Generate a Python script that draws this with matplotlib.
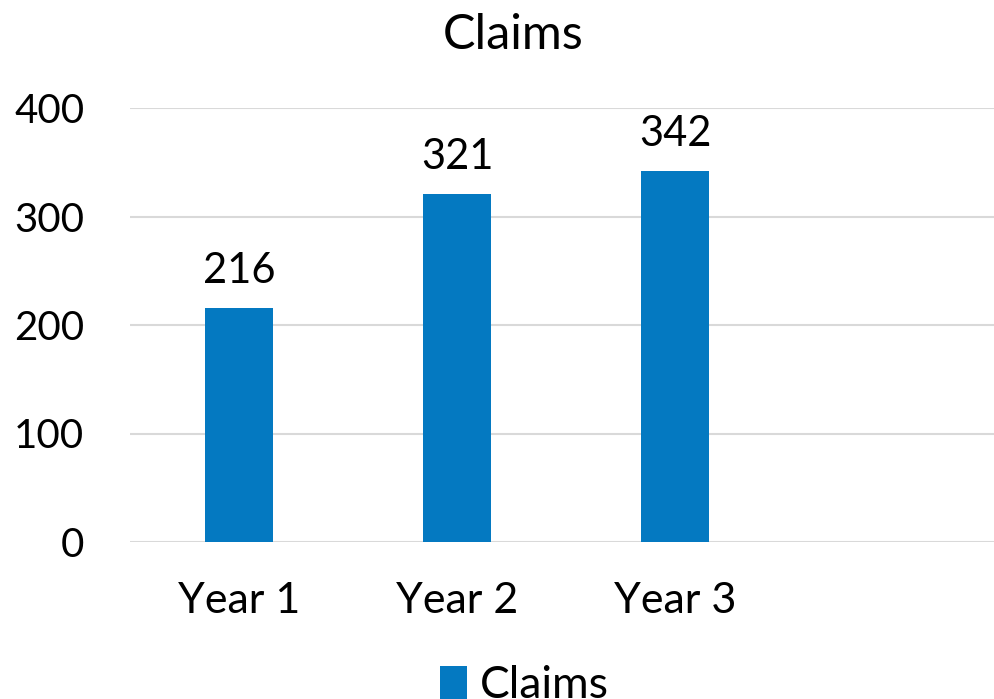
import matplotlib
matplotlib.use("Agg")
import matplotlib.pyplot as plt

categories = ["Year 1", "Year 2", "Year 3", ""]
claims = [216, 321, 342, None]
y_ticks = [0, 100, 200, 300, 400]

bar_color = "#0479C1"
grid_color = "#D9D9D9"

plt.rcParams["font.family"] = ["Lato", "DejaVu Sans"]

fig = plt.figure(figsize=(9.94, 6.99), dpi=100)
# plot area runs a bit past the right edge, like the cropped original
ax = fig.add_axes([130 / 994, (699 - 542) / 699, 872 / 994, 434 / 699])

xs = list(range(len(categories)))
vals = [v if v is not None else 0 for v in claims]
bars = ax.bar(xs, vals, width=0.31, color=bar_color, label="Claims", zorder=3)

for x, v in zip(xs, claims):
    if v is not None:
        ax.annotate(str(v), (x, v), xytext=(0, 13), textcoords="offset points",
                    ha="center", va="bottom", fontsize=30)

ax.set_xlim(-0.5, len(categories) - 0.5)
ax.set_ylim(0, 400)
ax.set_yticks(y_ticks)
ax.set_xticks(xs)
ax.set_xticklabels(categories)
ax.tick_params(axis="y", length=0, pad=33, labelsize=29)
ax.tick_params(axis="x", length=0, pad=29, labelsize=31)
ax.grid(axis="y", color=grid_color, linewidth=1.5, zorder=0)
for s in ax.spines.values():
    s.set_visible(False)

fig.text(513 / 994, 1 - 35 / 699, "Claims", ha="center", va="center", fontsize=35)

fig.legend(handles=[bars], labels=["Claims"], loc="center left",
           bbox_to_anchor=(440 / 994, 1 - 686 / 699), frameon=False,
           fontsize=32, handlelength=0.6, handleheight=0.8, handletextpad=0.3,
           borderpad=0, borderaxespad=0)

fig.savefig("out.png", dpi=100)
